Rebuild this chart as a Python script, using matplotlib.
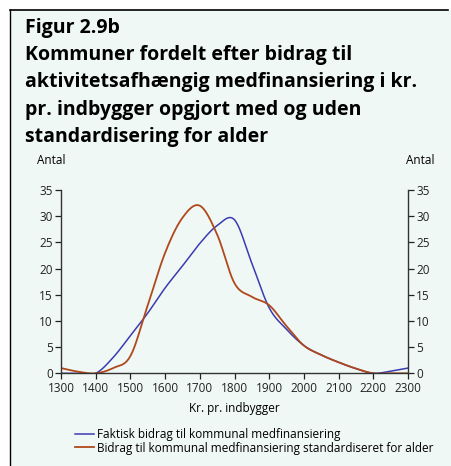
import numpy as np
import matplotlib
matplotlib.use("Agg")
from matplotlib import pyplot as plt
from matplotlib.lines import Line2D

plt.rcParams['font.family'] = ['Open Sans', 'DejaVu Sans']

# kr. pr. indbygger, step 50
kr = [1300, 1350, 1400, 1450, 1500, 1550, 1600, 1650, 1700, 1750, 1800,
      1850, 1900, 1950, 2000, 2050, 2100, 2150, 2200, 2250, 2300]
faktisk = [0, 0, 0, 3, 7.2, 11.5, 16.3, 20.5, 24.8, 28.2, 29.3,
           21, 12.5, 8.4, 5.3, 3.5, 2.1, 0.9, 0, 0.4, 1]
standard = [1, 0.3, 0, 1, 3.3, 13, 23, 29.7, 32, 26.5, 17.2,
            14.6, 13, 9, 5.3, 3.5, 2.1, 0.9, 0, 0, 0]
x_ticks = list(range(1300, 2301, 100))
y_ticks = list(range(0, 36, 5))

label_faktisk = "Faktisk bidrag til kommunal medfinansiering"
label_standard = "Bidrag til kommunal medfinansiering standardiseret for alder"

blue = '#3b3bb0'
orange = '#b0481c'
bg = '#eff8f5'


def smooth(x, y, n=20):
    # catmull-rom curve through the points, like excel's smoothed line
    x = np.asarray(x, float)
    y = np.asarray(y, float)
    px = np.concatenate([[2 * x[0] - x[1]], x, [2 * x[-1] - x[-2]]])
    py = np.concatenate([[2 * y[0] - y[1]], y, [2 * y[-1] - y[-2]]])
    t = np.linspace(0, 1, n, endpoint=False)
    xs, ys = [], []
    for i in range(1, len(px) - 2):
        for p, out in ((px, xs), (py, ys)):
            p0, p1, p2, p3 = p[i - 1], p[i], p[i + 1], p[i + 2]
            out.extend(0.5 * (2 * p1 + (-p0 + p2) * t
                              + (2 * p0 - 5 * p1 + 4 * p2 - p3) * t ** 2
                              + (-p0 + 3 * p1 - 3 * p2 + p3) * t ** 3))
    xs.append(x[-1])
    ys.append(y[-1])
    return xs, ys


fig = plt.figure(figsize=(4.51, 4.66), dpi=100)
fig.patch.set_facecolor('white')

# mint panel and frame lines
fig.add_artist(plt.Rectangle((10 / 451, 0), 441 / 451, 1 - 10 / 466,
                             transform=fig.transFigure, facecolor=bg,
                             edgecolor='none', zorder=0))
fig.add_artist(Line2D([10 / 451, 448 / 451], [1 - 10 / 466, 1 - 10 / 466],
                      transform=fig.transFigure, color='black', lw=1.2))
fig.add_artist(Line2D([10 / 451, 10 / 451], [0, 1 - 10 / 466],
                      transform=fig.transFigure, color='black', lw=1.0))

fig.text(25 / 451, 1 - 33 / 466, "Figur 2.9b", fontsize=14, fontweight='bold',
         va='baseline', ha='left')
title = ["Kommuner fordelt efter bidrag til",
         "aktivitetsafhængig medfinansiering i kr.",
         "pr. indbygger opgjort med og uden",
         "standardisering for alder"]
for i, line in enumerate(title):
    fig.text(25 / 451, 1 - (60 + 27.3 * i) / 466, line, fontsize=14,
             fontweight='bold', va='baseline', ha='left')

ax = fig.add_axes([61 / 451, 1 - 373.3 / 466, 347 / 451, 183.3 / 466])
ax.set_facecolor('none')
ax.plot(*smooth(kr, faktisk), color=blue, lw=1.1, label=label_faktisk)
ax.plot(*smooth(kr, standard), color=orange, lw=1.3, label=label_standard)

ax.set_xlim(1300, 2300)
ax.set_ylim(0, 35)
ax.set_xticks(x_ticks)
ax.set_yticks(y_ticks)
ax.tick_params(axis='both', labelsize=8.5, colors='#222222', length=4,
               width=0.9, direction='out', pad=2)
ax.tick_params(axis='y', left=True, right=True, labelleft=True, labelright=True)
for side in ('left', 'right', 'bottom'):
    ax.spines[side].set_color('#333333')
    ax.spines[side].set_linewidth(1.0)
ax.spines['top'].set_visible(False)
ax.set_xlabel("Kr. pr. indbygger", fontsize=8.5, labelpad=5)
ax.set_clip_on(False)

fig.text(51 / 451, 1 - 160 / 466, "Antal", fontsize=8.5, ha='center', va='center')
fig.text(420 / 451, 1 - 160 / 466, "Antal", fontsize=8.5, ha='center', va='center')

fig.legend(loc='upper left', bbox_to_anchor=(75 / 451, 1 - 428 / 466),
           frameon=False, fontsize=8.5, handlelength=1.6, handletextpad=0.3,
           labelspacing=0.05, borderaxespad=0, borderpad=0)

fig.savefig("out.png", dpi=100, facecolor=fig.get_facecolor())
